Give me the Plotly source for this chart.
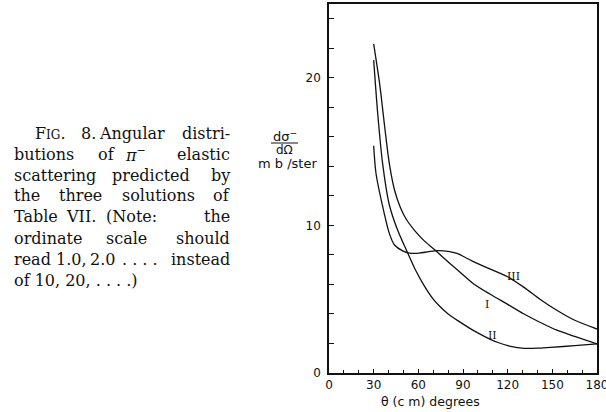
import plotly.graph_objects as go

# ---- data ----
theta_I = [30, 34, 37.5, 40.5, 44, 48, 52, 58, 64, 71, 78, 85, 97, 108, 120, 131, 142, 153, 165, 180]
dsig_I = [22.3, 19.6, 16.6, 14.2, 12.4, 11.2, 10.4, 9.6, 8.95, 8.35, 7.7, 7.1, 6.05, 5.35, 4.65, 4.0, 3.42, 2.9, 2.48, 1.97]

theta_II = [30, 32.7, 36, 40.5, 46, 53, 57.5, 64, 70, 75, 80, 86.5, 97.5, 108, 114, 122, 131, 140, 149, 165, 180]
dsig_II = [21.2, 17.6, 14.2, 11.4, 9.7, 8.1, 7.1, 5.9, 5.0, 4.45, 4.0, 3.55, 2.85, 2.3, 2.05, 1.8, 1.67, 1.68, 1.74, 1.85, 1.97]

theta_III = [30, 31.6, 36, 40.5, 44, 49.5, 54, 60.5, 67, 73, 80, 86, 96, 108, 120, 131, 142.4, 153, 164.7, 180]
dsig_III = [15.4, 13.5, 11.3, 9.46, 8.67, 8.27, 8.12, 8.12, 8.22, 8.29, 8.24, 8.1, 7.6, 7.05, 6.52, 5.8, 4.95, 4.25, 3.59, 2.98]

curve_labels = ["I", "II", "III"]
label_theta = [106, 109.6, 124]
label_dsig = [4.67, 2.57, 6.55]

x_tickvals = [0, 30, 60, 90, 120, 150, 180]
y_tickvals = [0, 10, 20]

caption_lines = [
    ["F<span style='font-size:12px'>IG</span>.", "8.", "Angular", "distri-"],
    ["butions", "of", "<i>π</i><sup>−</sup>", "elastic"],
    ["scattering", "predicted", "by"],
    ["the", "three", "solutions", "of"],
    ["Table", "VII.", "(Note:", "the"],
    ["ordinate", "scale", "should"],
    ["read", "1.0,", "2.0", ". . . .", "instead"],
    ["of 10, 20, . . . .)"],
]
# horizontal placement of inner words (pixel centres), justified text
caption_inner_x = [
    [88, 132],
    [106, 135],
    [151],
    [80, 159],
    [81, 131],
    [126],
    [71, 102, 140],
    [],
]
caption_first_x = [33, 12, 12, 12, 12, 12, 12, 12]

# ---- layout geometry (pixels) ----
W, H = 606, 412
L, R, T, B = 329, 597, 4, 373


def px(xp):
    return (xp - L) / (R - L)


def py(yp):
    return (B - yp) / (B - T)


fig = go.Figure()
for xs, ys in [(theta_I, dsig_I), (theta_II, dsig_II), (theta_III, dsig_III)]:
    fig.add_trace(go.Scatter(x=xs, y=ys, mode="lines",
                             line=dict(color="#111", width=1.3, shape="spline", smoothing=0.8),
                             showlegend=False, hoverinfo="skip"))

ann = []
for t, xv, yv in zip(curve_labels, label_theta, label_dsig):
    ann.append(dict(x=xv, y=yv, xref="x", yref="y", text=t, showarrow=False,
                    font=dict(family="DejaVu Serif", size=11, color="#111")))

serif = dict(family="DejaVu Serif", size=16, color="#111")
for i, words in enumerate(caption_lines):
    yl = py(133 + 21 * i)
    ann.append(dict(x=px(caption_first_x[i]), y=yl, xref="paper", yref="paper", text=words[0],
                    showarrow=False, xanchor="left", yanchor="middle", font=serif))
    if len(words) == 1:
        continue
    for w, xc in zip(words[1:-1], caption_inner_x[i]):
        ann.append(dict(x=px(xc), y=yl, xref="paper", yref="paper", text=w,
                        showarrow=False, xanchor="center", yanchor="middle", font=serif))
    ann.append(dict(x=px(232), y=yl, xref="paper", yref="paper", text=words[-1],
                    showarrow=False, xanchor="right", yanchor="middle", font=serif))

ann.append(dict(x=px(285), y=py(136), xref="paper", yref="paper", text="dσ<sup>−</sup>",
                xanchor="center", yanchor="middle", showarrow=False,
                font=dict(family="DejaVu Sans", size=13, color="#111")))
ann.append(dict(x=px(284), y=py(150), xref="paper", yref="paper", text="dΩ",
                xanchor="center", yanchor="middle", showarrow=False,
                font=dict(family="DejaVu Sans", size=12, color="#111")))
ann.append(dict(x=px(287), y=py(163), xref="paper", yref="paper", text="m b /ster",
                xanchor="center", yanchor="middle", showarrow=False,
                font=dict(family="DejaVu Sans", size=13, color="#111")))
ann.append(dict(x=px(430), y=py(411), xref="paper", yref="paper", text="θ (c m) degrees",
                xanchor="center", yanchor="bottom", showarrow=False,
                font=dict(family="DejaVu Sans", size=12.5, color="#111")))

fig.update_layout(
    width=W, height=H, autosize=False,
    margin=dict(l=L, r=W - R, t=T, b=H - B, pad=0),
    paper_bgcolor="white", plot_bgcolor="white",
    annotations=ann,
    shapes=[dict(type="line", xref="paper", yref="paper", x0=px(271), x1=px(298),
                 y0=py(143), y1=py(143), line=dict(color="#111", width=1))],
    xaxis=dict(range=[0, 180], tickvals=x_tickvals, ticks="inside", ticklen=4, tickcolor="#111",
               showline=True, linecolor="#111", linewidth=1.5, mirror=True, showgrid=False,
               zeroline=False, ticklabeloverflow="allow", automargin=False,
               tickfont=dict(family="DejaVu Sans", size=12, color="#111"),
               minor=dict(dtick=10, ticks="inside", ticklen=3, tickcolor="#111", showgrid=False)),
    yaxis=dict(range=[0, 25], tickvals=y_tickvals, ticks="inside", ticklen=5, tickcolor="#111",
               showline=True, linecolor="#111", linewidth=1.5, mirror=True, showgrid=False,
               zeroline=False, ticklabelstandoff=4, automargin=False,
               tickfont=dict(family="DejaVu Sans", size=12, color="#111"),
               minor=dict(dtick=2, ticks="inside", ticklen=5, tickcolor="#111", showgrid=False)),
)

fig.write_html("out.html", config={"displayModeBar": False},
               post_script="document.body.style.margin='0';document.body.style.overflow='hidden';")
